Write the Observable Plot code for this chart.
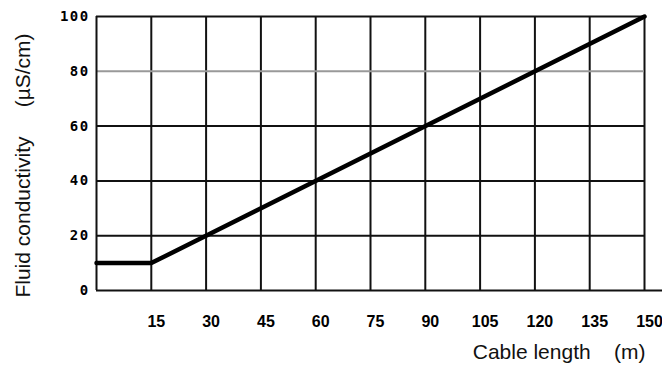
<!DOCTYPE html>
<html>
<head>
<meta charset="utf-8">
<script src="https://cdn.jsdelivr.net/npm/d3@7"></script>
<script src="https://cdn.jsdelivr.net/npm/@observablehq/plot@0.6"></script>
<style>
  html, body { margin: 0; padding: 0; background: #fff; }
  svg { white-space: pre; }
  g[aria-label="y-axis tick label"] text { letter-spacing: 1.4px; }
</style>
</head>
<body>
<div id="chart"></div>
<script>
// Data
const cableLength = [0, 15, 150];          // m
const conductivity = [10, 10, 100];        // µS/cm
const xTicks = [15, 30, 45, 60, 75, 90, 105, 120, 135, 150];
const yTicks = [0, 20, 40, 60, 80, 100];
const darkGridY = [20, 40, 60, 100];
const grayGridY = [80];
const xTitle = "Cable length    (m)";
const yTitle = "Fluid conductivity     (\u00b5S/cm)";

const points = cableLength.map((x, i) => ({x, y: conductivity[i]}));

const chart = Plot.plot({
  width: 662,
  height: 367,
  marginLeft: 96,
  marginRight: 18,
  marginTop: 16,
  marginBottom: 77,
  x: {domain: [0, 150]},
  y: {domain: [0, 100]},
  style: {background: "#fff", overflow: "visible"},
  marks: [
    // grid
    Plot.ruleX(xTicks, {stroke: "#111", strokeWidth: 2}),
    Plot.ruleY(grayGridY, {x1: 0, x2: 150, stroke: "#999", strokeWidth: 2}),
    Plot.ruleY(darkGridY, {x1: 0, x2: 150, stroke: "#111", strokeWidth: 2}),
    // axes lines
    Plot.ruleX([0], {stroke: "#111", strokeWidth: 2}),
    Plot.ruleY([0], {x1: 0, x2: 155, stroke: "#111", strokeWidth: 2}),
    // tick labels
    Plot.axisY(yTicks, {
      tickSize: 0, tickPadding: 7, label: null,
      fontFamily: "DejaVu Sans Mono", fontWeight: "bold", fontSize: 14,
      fill: "#000"
    }),
    Plot.axisX(xTicks, {
      tickSize: 0, tickPadding: 25, label: null, dx: 5,
      fontFamily: "Liberation Sans", fontWeight: "bold", fontSize: 16,
      fill: "#000"
    }),
    // data line
    Plot.line(points, {x: "x", y: "y", stroke: "#000", strokeWidth: 4.5, strokeLinejoin: "miter"}),
    // axis titles
    Plot.text([xTitle], {
      frameAnchor: "bottom-right", textAnchor: "end", dy: 68, dx: 1,
      fontFamily: "Liberation Sans", fontSize: 21, fill: "#111"
    }),
    Plot.text([yTitle], {
      frameAnchor: "left", textAnchor: "middle", rotate: -90, dx: -73, dy: 12,
      fontFamily: "Liberation Sans", fontSize: 21, fill: "#111"
    })
  ]
});

chart.setAttribute("font-family", "Liberation Sans");
document.getElementById("chart").appendChild(chart);
</script>
</body>
</html>
